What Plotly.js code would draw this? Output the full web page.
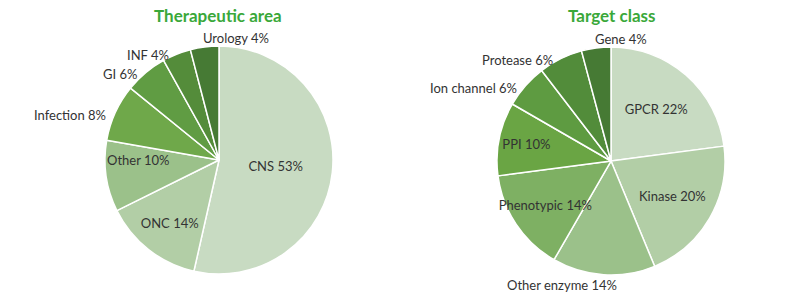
<!DOCTYPE html>
<html>
<head>
<meta charset="utf-8">
<script src="https://cdn.plot.ly/plotly-3.0.1.min.js"></script>
<style>
  html, body { margin: 0; padding: 0; background: #ffffff; }
  #chart { width: 800px; height: 300px; }
</style>
</head>
<body>
<div id="chart"></div>
<script>
// Therapeutic area breakdown (%)
const areaLabels = ['CNS', 'ONC', 'Other', 'Infection', 'GI', 'INF', 'Urology'];
const areaValues = [53, 14, 10, 8, 6, 4, 4];
const areaColors = ['#c8dbc2', '#b2cea6', '#9bc18a', '#6fa84a', '#609c43', '#548c3a', '#467a34'];
const areaOutside = [false, false, false, true, true, true, true];

// Target class breakdown (%)
const classLabels = ['GPCR', 'Kinase', 'Other enzyme', 'Phenotypic', 'PPI', 'Ion channel', 'Protease', 'Gene'];
const classValues = [22, 20, 14, 14, 10, 6, 6, 4];
const classColors = ['#c8dbc2', '#b2cea6', '#9bc18a', '#7eb063', '#6aa544', '#5e9b41', '#528c3a', '#467a34'];
const classOutside = [false, false, true, false, false, true, true, true];

const W = 800, H = 300;
const R = 114;                       // pie radius in px
const font = { family: 'Lato, sans-serif', size: 13, color: '#333333' };

function pieTrace(labels, values, colors, outside, cx, cy) {
  return {
    type: 'pie',
    labels: labels,
    values: values,
    sort: false,
    direction: 'clockwise',
    rotation: 0,
    marker: { colors: colors, line: { color: '#ffffff', width: 1.5 } },
    // outside labels are drawn as annotations below
    texttemplate: labels.map((l, i) => outside[i] ? '' : '%{label} %{value}%'),
    textposition: 'inside',
    insidetextorientation: 'horizontal',
    textfont: font,
    insidetextfont: font,
    hoverinfo: 'label+value',
    showlegend: false,
    domain: {
      x: [(cx - R) / W, (cx + R) / W],
      y: [(H - cy - R) / H, (H - cy + R) / H]
    }
  };
}

// Outside labels, placed just beyond the mid-angle of each slice
function outsideLabels(labels, values, outside, cx, cy) {
  const total = values.reduce((a, b) => a + b, 0);
  const out = [];
  let cum = 0;
  values.forEach((v, i) => {
    const mid = (cum + v / 2) / total * 2 * Math.PI;
    cum += v;
    if (!outside[i]) return;
    const s = Math.sin(mid), c = Math.cos(mid);
    const px = cx + (R + 2) * s;
    const py = cy - (R + 2) * c;
    let xanchor, yanchor, xshift = 0, yshift = 0;
    if (c < -0.7) { xanchor = 'right'; yanchor = 'top'; xshift = 16; yshift = 2; }
    else if (Math.abs(s) < 0.3) { xanchor = 'left'; yanchor = 'bottom'; xshift = -3; yshift = -3; }
    else { xanchor = s < 0 ? 'right' : 'left'; yanchor = 'middle'; xshift = s < 0 ? -5 : 5; yshift = -3; }
    out.push({
      text: labels[i] + ' ' + values[i] + '%',
      x: px / W, y: 1 - py / H, xref: 'paper', yref: 'paper',
      xanchor: xanchor, yanchor: yanchor, xshift: xshift, yshift: yshift,
      showarrow: false, font: font
    });
  });
  return out;
}

const left = { cx: 219, cy: 160 };
const right = { cx: 611, cy: 161 };

const data = [
  pieTrace(areaLabels, areaValues, areaColors, areaOutside, left.cx, left.cy),
  pieTrace(classLabels, classValues, classColors, classOutside, right.cx, right.cy)
];

const titleFont = { family: 'Lato, sans-serif', size: 17, color: '#3aa83a' };

const layout = {
  width: W,
  height: H,
  margin: { l: 0, r: 0, t: 0, b: 0 },
  paper_bgcolor: '#ffffff',
  plot_bgcolor: '#ffffff',
  font: font,
  uniformtext: { minsize: 13, mode: 'show' },
  annotations: [
    { text: '<b>Therapeutic area</b>', x: 218 / W, y: 1 - 15 / H, xref: 'paper', yref: 'paper',
      xanchor: 'center', yanchor: 'middle', showarrow: false, font: titleFont },
    { text: '<b>Target class</b>', x: 611 / W, y: 1 - 15 / H, xref: 'paper', yref: 'paper',
      xanchor: 'center', yanchor: 'middle', showarrow: false, font: titleFont }
  ].concat(
    outsideLabels(areaLabels, areaValues, areaOutside, left.cx, left.cy),
    outsideLabels(classLabels, classValues, classOutside, right.cx, right.cy)
  )
};

Plotly.newPlot('chart', data, layout, { displayModeBar: false, staticPlot: true });
</script>
</body>
</html>
